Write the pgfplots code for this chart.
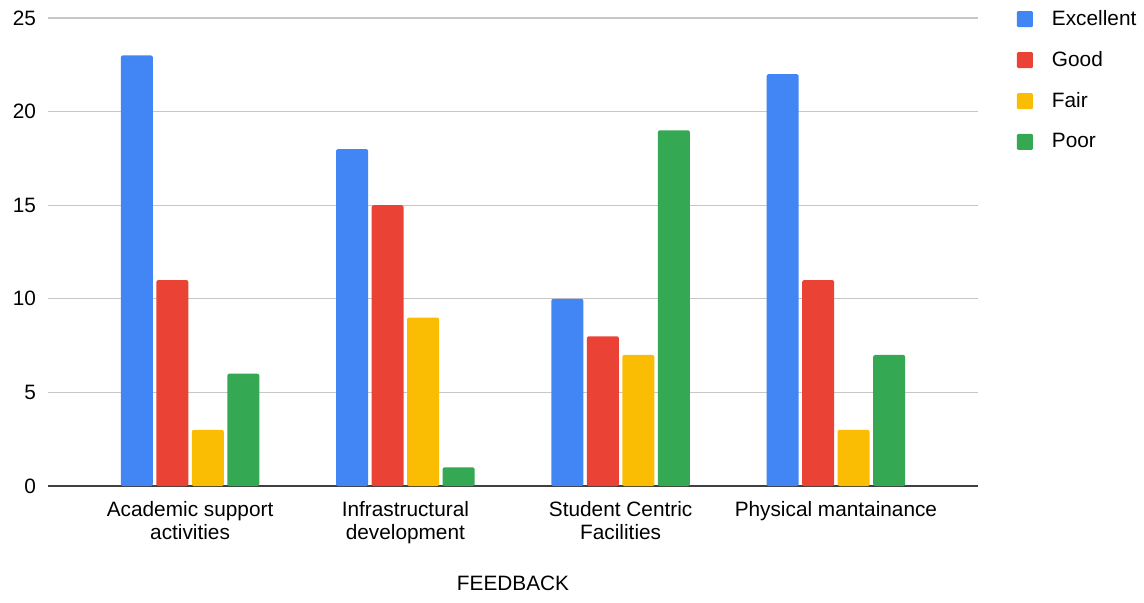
\documentclass[border=0pt]{standalone}
\usepackage{pgfplots}
\pgfplotsset{compat=1.18}
\usepackage{fontspec}
\setmainfont{Liberation Sans}

\definecolor{gblue}{HTML}{4285F4}
\definecolor{gred}{HTML}{EA4335}
\definecolor{gyellow}{HTML}{FBBC04}
\definecolor{ggreen}{HTML}{34A853}

\begin{document}
\begin{tikzpicture}
\begin{axis}[
    scale only axis,
    width=465pt, height=234pt,
    ybar=1.75pt, bar width=16pt,
    xmin=-0.66, xmax=3.66,
    ymin=0, ymax=25,
    xtick=data,
    xticklabels={{Academic support\\activities},{Infrastructural\\development},{Student Centric\\Facilities},{Physical mantainance}},
    xticklabel style={align=center, font=\fontsize{10.4}{11.5}\selectfont, yshift=-4pt},
    ytick={0,5,10,15,20,25},
    yticklabel style={font=\fontsize{10.4}{11}\selectfont, xshift=-2.5pt},
    /pgf/number format/assume math mode=true,
    major tick length=0pt,
    xlabel={FEEDBACK},
    xlabel style={font=\fontsize{10.4}{11}\selectfont, yshift=-9.5pt},
    axis x line*=bottom,
    axis y line*=left,
    y axis line style={draw=none},
    x axis line style={draw=black!75, line width=0.6pt, -},
    ymajorgrids=true,
    grid style={draw=black!22, line width=0.6pt},
    legend style={draw=none, at={(1.035,1.035)}, anchor=north west,
        font=\fontsize{10.4}{11}\selectfont, row sep=7.5pt},
    legend cell align=left,
    legend image code/.code={\fill[#1, rounded corners=0.6pt] (0pt,-4pt) rectangle (8pt,4pt);},
    every axis plot/.append style={draw=none, rounded corners=1pt},
    name=ax,
]
\coordinate (sw) at (rel axis cs:0,0);
\addplot[fill=gblue] coordinates {(0,23) (1,18) (2,10) (3,22)};
\addplot[fill=gred] coordinates {(0,11) (1,15) (2,8) (3,11)};
\addplot[fill=gyellow] coordinates {(0,3) (1,9) (2,7) (3,3)};
\addplot[fill=ggreen] coordinates {(0,6) (1,1) (2,19) (3,7)};
\legend{\hspace*{7.5pt}Excellent,\hspace*{7.5pt}Good,\hspace*{7.5pt}Fair,\hspace*{7.5pt}Poor}
\end{axis}
\pgfresetboundingbox
\useasboundingbox ([xshift=-24pt,yshift=-58pt]sw) rectangle ([xshift=548pt,yshift=243pt]sw);
\end{tikzpicture}
\end{document}
